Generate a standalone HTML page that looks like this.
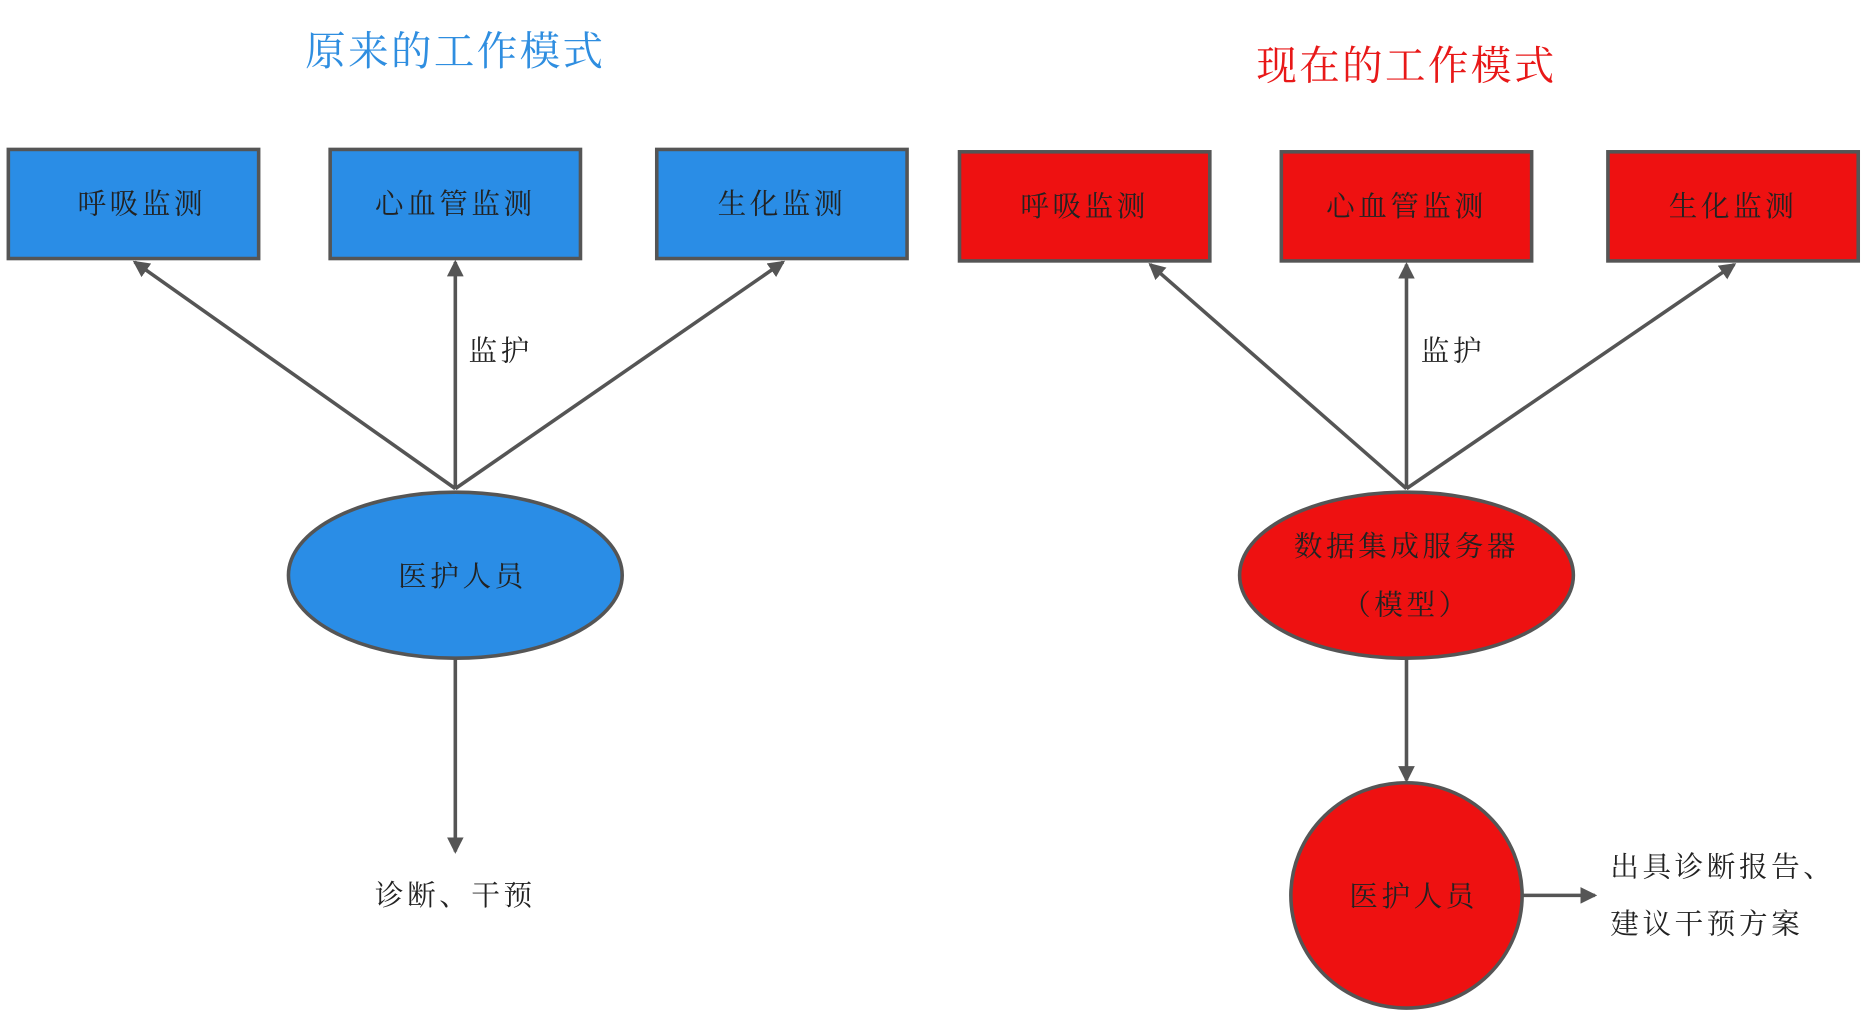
<!DOCTYPE html>
<html><head><meta charset="utf-8"><style>
html,body{margin:0;padding:0;background:#fff;width:1863px;height:1014px;overflow:hidden}
svg text{font-family:"Liberation Serif","Noto Serif CJK SC",serif}
</style></head><body>
<svg width="1863" height="1014" viewBox="0 0 1563 855" preserveAspectRatio="none" xmlns="http://www.w3.org/2000/svg">
<defs>
<marker id="a" markerWidth="14" markerHeight="14" refX="12" refY="7" orient="auto" markerUnits="userSpaceOnUse">
<path d="M0,0 L14,7 L0,14 Z" fill="#555"/>
</marker>
</defs>
<text x="382" y="55" font-size="34" fill="#2f8ee0" text-anchor="middle" letter-spacing="2">原来的工作模式</text>
<text x="1180" y="67" font-size="34" fill="#e81818" text-anchor="middle" letter-spacing="2">现在的工作模式</text>
<g stroke="#555" stroke-width="3" fill="#2a8de6">
<rect x="7" y="126" width="210" height="92"/>
<rect x="277" y="126" width="210" height="92"/>
<rect x="551" y="126" width="210" height="92"/>
<ellipse cx="382" cy="485" rx="140" ry="70"/>
</g>
<g transform="translate(-2,0)">
<g stroke="#555" stroke-width="3" fill="#ee1111">
<rect x="807" y="128" width="210" height="92"/>
<rect x="1077" y="128" width="210" height="92"/>
<rect x="1351" y="128" width="210" height="92"/>
<ellipse cx="1182" cy="485" rx="140" ry="70"/>
<ellipse cx="1182" cy="755" rx="97" ry="95"/>
</g>
</g>
<g stroke="#555" stroke-width="3" fill="none" marker-end="url(#a)">
<line x1="382" y1="412" x2="113" y2="221"/>
<line x1="382" y1="412" x2="382" y2="221"/>
<line x1="382" y1="412" x2="657" y2="221"/>
<line x1="382" y1="555" x2="382" y2="718"/>
<line x1="1180" y1="412" x2="965" y2="223"/>
<line x1="1180" y1="412" x2="1180" y2="223"/>
<line x1="1180" y1="412" x2="1455" y2="223"/>
<line x1="1180" y1="555" x2="1180" y2="658"/>
<line x1="1278" y1="755" x2="1338" y2="755"/>
</g>
<g font-size="24" fill="#222" text-anchor="middle" letter-spacing="3">
<text x="119" y="180">呼吸监测</text>
<text x="382" y="180">心血管监测</text>
<text x="656" y="180">生化监测</text>
<text x="388" y="494">医护人员</text>
<text x="910" y="182">呼吸监测</text>
<text x="1180" y="182">心血管监测</text>
<text x="1454" y="182">生化监测</text>
<text x="1180" y="469">数据集成服务器</text>
<text x="1180" y="518">（模型）</text>
<text x="1186" y="764">医护人员</text>
<text x="420" y="304">监护</text>
<text x="1219" y="304">监护</text>
<text x="382" y="763">诊断、干预</text>
</g>
<g font-size="24" fill="#222" letter-spacing="3">
<text x="1351" y="739">出具诊断报告、</text>
<text x="1351" y="787">建议干预方案</text>
</g>
</svg>
</body></html>
